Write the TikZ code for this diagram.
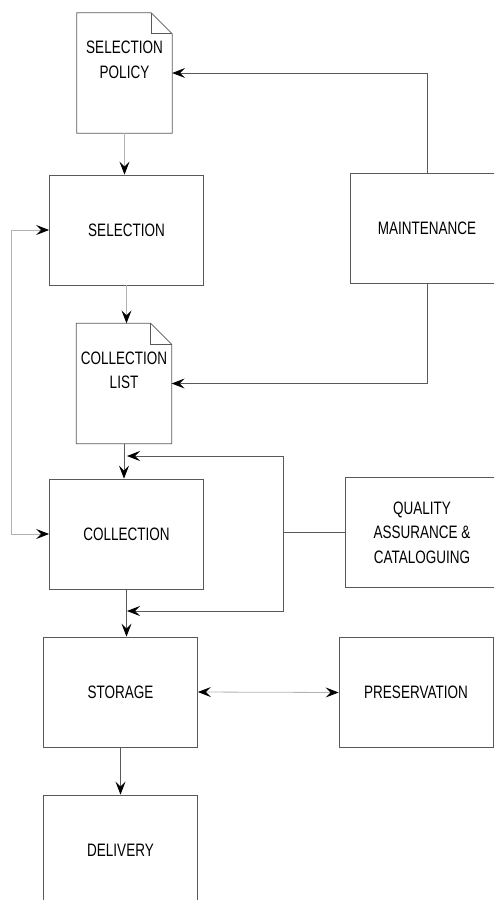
\documentclass[tikz,border=0pt]{standalone}
\usepackage{fontspec}
\setmainfont{Liberation Sans}[FakeStretch=0.75]
\usetikzlibrary{arrows.meta}

\tikzset{
  >={Stealth[length=13pt,width=10pt,inset=5pt,black]},
  line/.style={draw=black!65, line width=0.8pt},
  pale/.style={draw=black!30, line width=0.8pt},
  stage/.style={line, minimum width=154pt, minimum height=110pt, inner sep=0pt,
    align=center, font=\fontsize{18}{24.5}\selectfont},
  doc/.style={minimum width=95pt, inner sep=0pt, text height=65pt, text depth=55pt,
    align=center, font=\fontsize{18}{24.5}\selectfont}
}

\begin{document}
\begin{tikzpicture}[x=1pt,y=-1pt]
  \useasboundingbox (0,0) rectangle (494,900);
  \clip (0,0) rectangle (494,900);

  \node[doc] (policy) at (124.5,73) {SELECTION\\POLICY};
  \node[doc] (list) at (124,383.5) {COLLECTION\\LIST};
  \node[stage] (sel) at (126.5,230) {SELECTION};
  \node[stage] (maint) at (427,228.5) {MAINTENANCE};
  \node[stage] (coll) at (126.5,534) {COLLECTION};
  \node[stage] (qa) at (422,532.5) {QUALITY\\ASSURANCE \&\\CATALOGUING};
  \node[stage] (stor) at (120.5,692) {STORAGE};
  \node[stage] (pres) at (416,692.5) {PRESERVATION};
  \node[stage] (deliv) at (120.5,850) {DELIVERY};

  % document outlines with folded corner
  \foreach \d in {policy,list} {
    \draw[line] (\d.south west) -- (\d.north west) -- ([xshift=-21pt]\d.north east)
      -- ([yshift=-21pt]\d.north east) -- (\d.south east) -- cycle;
    \draw[line] ([xshift=-21pt]\d.north east) |- ([yshift=-21pt]\d.north east);
  }

  \draw[line,->] (maint.north) |- (policy.east);
  \draw[pale,->] (policy.south) -- (policy.south |- sel.north);
  \draw[pale,->] (sel.south) -- (sel.south |- list.north);
  \draw[line,->] (maint.south) |- (list.east);
  \draw[pale,<->] (sel.west) -- ++(-38,0) |- (coll.west);
  \draw[line,->] (list.south) -- (list.south |- coll.north);

  % quality assurance feeds back above and below collection
  \coordinate (qtop) at (127,456);
  \coordinate (qbot) at (127,611);
  \draw[line] (qa.west) -- ++(-61,0) coordinate (qj);
  \draw[line,->] (qj) |- (qtop);
  \draw[line,->] (qj) |- (qbot);

  \draw[line,->] (coll.south) -- (coll.south |- stor.north);
  \draw[pale,<->] (stor.east) -- (pres.west);
  \draw[line,->] (stor.south) -- (deliv.north);
\end{tikzpicture}
\end{document}
